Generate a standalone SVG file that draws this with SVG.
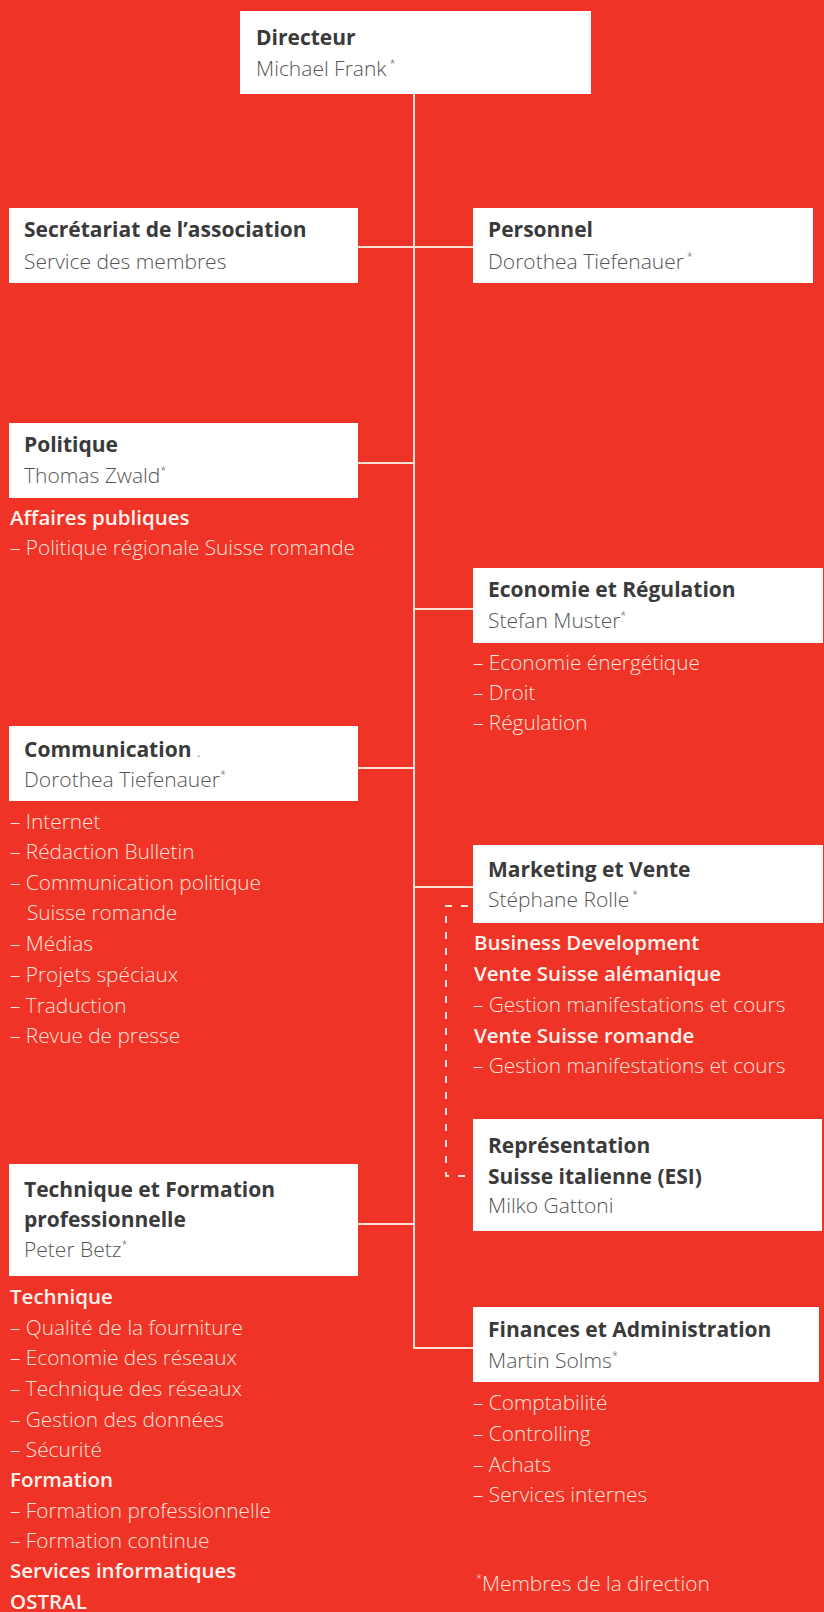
<svg xmlns="http://www.w3.org/2000/svg" width="824" height="1612" viewBox="0 0 824 1612">
<defs>
<style>
.bg{fill:#ef3427}
.box{fill:#ffffff}
.t{font-family:"Open Sans","Noto Sans","Liberation Sans",sans-serif;font-size:21px;font-weight:700;fill:#3a3a3a}
.n{font-family:"Open Sans","Noto Sans","Liberation Sans",sans-serif;font-size:21px;font-weight:300;fill:#555555}
.l{font-family:"Open Sans","Noto Sans","Liberation Sans",sans-serif;font-size:20.8px;font-weight:300;fill:#fde2da}
.h{font-family:"Open Sans","Noto Sans","Liberation Sans",sans-serif;font-size:20.5px;font-weight:600;fill:#fff2ee}
.sup{font-size:11px}
.con{stroke:#fbe0d8;stroke-width:2;fill:none}
.dash{stroke:#fbe0d8;stroke-width:2;fill:none;stroke-dasharray:7 9}
</style>
</defs>
<rect class="bg" x="0" y="0" width="824" height="1612"/>
<g id="connectors">
<path class="con" d="M414 93 V1348 H474"/>
<path class="con" d="M357 247 H474"/>
<path class="con" d="M357 463 H414"/>
<path class="con" d="M414 609 H474"/>
<path class="con" d="M357 768 H414"/>
<path class="con" d="M414 887 H474"/>
<path class="con" d="M357 1224 H414"/>
<path class="dash" d="M468 906 H446 V1176 H468"/>
</g>
<g id="directeur">
<rect class="box" x="240" y="11" width="351" height="83"/>
<text class="t" x="256" y="45">Directeur</text>
<text class="n" x="256" y="76">Michael Frank<tspan class="sup" dy="-9"> *</tspan></text>
</g>
<g id="secretariat">
<rect class="box" x="9" y="208" width="349" height="75"/>
<text class="t" x="24" y="237">Secrétariat de l’association</text>
<text class="n" x="24" y="269">Service des membres</text>
</g>
<g id="personnel">
<rect class="box" x="473" y="208" width="340" height="75"/>
<text class="t" x="488" y="237">Personnel</text>
<text class="n" x="488" y="269">Dorothea Tiefenauer<tspan class="sup" dy="-9"> *</tspan></text>
</g>
<g id="politique">
<rect class="box" x="9" y="423" width="349" height="75"/>
<text class="t" x="24" y="452">Politique</text>
<text class="n" x="24" y="483">Thomas Zwald<tspan class="sup" dy="-9">*</tspan></text>
<text class="h" x="10" y="525">Affaires publiques</text>
<text class="l" x="10" y="555">– Politique régionale Suisse romande</text>
</g>
<g id="economie">
<rect class="box" x="473" y="568" width="350" height="75"/>
<text class="t" x="488" y="597">Economie et Régulation</text>
<text class="n" x="488" y="628">Stefan Muster<tspan class="sup" dy="-9">*</tspan></text>
<text class="l" x="473" y="670">– Economie énergétique</text>
<text class="l" x="473" y="700">– Droit</text>
<text class="l" x="473" y="730">– Régulation</text>
</g>
<g id="communication">
<rect class="box" x="9" y="726" width="349" height="75"/>
<text class="t" x="24" y="757">Communication <tspan fill="#6a8ab0" font-weight="400" font-size="12">.</tspan></text>
<text class="n" x="24" y="787">Dorothea Tiefenauer<tspan class="sup" dy="-9">*</tspan></text>
<text class="l" x="10" y="829">– Internet</text>
<text class="l" x="10" y="859">– Rédaction Bulletin</text>
<text class="l" x="10" y="890">– Communication politique</text>
<text class="l" x="27" y="920">Suisse romande</text>
<text class="l" x="10" y="951">– Médias</text>
<text class="l" x="10" y="982">– Projets spéciaux</text>
<text class="l" x="10" y="1013">– Traduction</text>
<text class="l" x="10" y="1043">– Revue de presse</text>
</g>
<g id="marketing">
<rect class="box" x="473" y="845" width="350" height="78"/>
<text class="t" x="488" y="877">Marketing et Vente</text>
<text class="n" x="488" y="907">Stéphane Rolle<tspan class="sup" dy="-9"> *</tspan></text>
<text class="h" x="474" y="950">Business Development</text>
<text class="h" x="474" y="981">Vente Suisse alémanique</text>
<text class="l" x="473" y="1012">– Gestion manifestations et cours</text>
<text class="h" x="474" y="1043">Vente Suisse romande</text>
<text class="l" x="473" y="1073">– Gestion manifestations et cours</text>
</g>
<g id="representation">
<rect class="box" x="473" y="1119" width="349" height="112"/>
<text class="t" x="488" y="1153">Représentation</text>
<text class="t" x="488" y="1184">Suisse italienne (ESI)</text>
<text class="n" x="488" y="1213">Milko Gattoni</text>
</g>
<g id="technique">
<rect class="box" x="9" y="1164" width="349" height="112"/>
<text class="t" x="24" y="1197">Technique et Formation</text>
<text class="t" x="24" y="1227">professionnelle</text>
<text class="n" x="24" y="1257">Peter Betz<tspan class="sup" dy="-9">*</tspan></text>
<text class="h" x="10" y="1304">Technique</text>
<text class="l" x="10" y="1335">– Qualité de la fourniture</text>
<text class="l" x="10" y="1365">– Economie des réseaux</text>
<text class="l" x="10" y="1396">– Technique des réseaux</text>
<text class="l" x="10" y="1427">– Gestion des données</text>
<text class="l" x="10" y="1457">– Sécurité</text>
<text class="h" x="10" y="1487">Formation</text>
<text class="l" x="10" y="1518">– Formation professionnelle</text>
<text class="l" x="10" y="1548">– Formation continue</text>
<text class="h" x="10" y="1578">Services informatiques</text>
<text class="h" x="10" y="1609">OSTRAL</text>
</g>
<g id="finances">
<rect class="box" x="473" y="1307" width="346" height="75"/>
<text class="t" x="488" y="1337">Finances et Administration</text>
<text class="n" x="488" y="1368">Martin Solms<tspan class="sup" dy="-9">*</tspan></text>
<text class="l" x="473" y="1410">– Comptabilité</text>
<text class="l" x="473" y="1441">– Controlling</text>
<text class="l" x="473" y="1472">– Achats</text>
<text class="l" x="473" y="1502">– Services internes</text>
</g>
<g id="footnote">
<text class="l" x="476" y="1591"><tspan class="sup" dy="-9">*</tspan><tspan dy="9">Membres de la direction</tspan></text>
</g>
</svg>
